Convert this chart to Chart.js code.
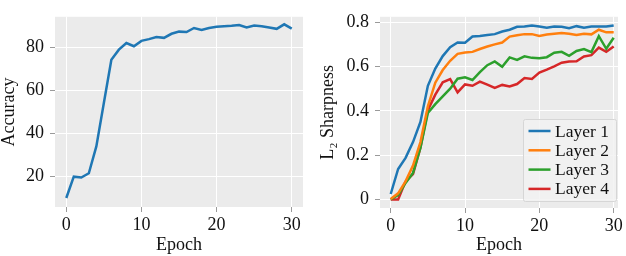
<!DOCTYPE html>
<html lang="en">
<head>
<meta charset="UTF-8">
<title>Accuracy and L2 sharpness</title>
<script src="https://cdn.jsdelivr.net/npm/chart.js"></script>
<style>
  html, body { margin: 0; padding: 0; background: #fff; }
  .panel { position: absolute; top: 0; width: 313px; height: 256px; }
</style>
</head>
<body>
<div class="panel" style="left:0"><canvas id="accChart" width="313" height="256"></canvas></div>
<div class="panel" style="left:313px"><canvas id="sharpChart" width="313" height="256"></canvas></div>

<script>
// data
const epochs = [0,1,2,3,4,5,6,7,8,9,10,11,12,13,14,15,16,17,18,19,20,21,22,23,24,25,26,27,28,29,30];
const accuracy = [9.8,19.7,19.3,21.3,33.8,54.0,74.1,78.8,81.9,80.4,82.9,83.7,84.7,84.3,86.2,87.2,
                  87.0,88.9,88.0,88.9,89.5,89.7,89.9,90.3,89.1,90.0,89.7,89.1,88.5,90.6,88.6];
const layer1 = [0.025,0.138,0.188,0.259,0.350,0.513,0.591,0.647,0.687,0.708,0.707,0.735,0.738,0.742,0.746,0.758,
                0.766,0.779,0.780,0.785,0.780,0.775,0.780,0.779,0.773,0.782,0.775,0.780,0.780,0.780,0.785];
const layer2 = [0.002,0.028,0.082,0.153,0.259,0.421,0.527,0.584,0.626,0.657,0.663,0.666,0.679,0.690,0.700,0.708,
                0.735,0.741,0.746,0.746,0.738,0.744,0.748,0.751,0.748,0.742,0.748,0.745,0.766,0.754,0.754];
const layer3 = [0.000,0.020,0.075,0.120,0.234,0.390,0.430,0.465,0.500,0.545,0.551,0.539,0.575,0.606,0.623,0.599,
                0.641,0.630,0.646,0.639,0.637,0.642,0.662,0.666,0.648,0.670,0.679,0.665,0.737,0.680,0.730];
const layer4 = [0.000,0.000,0.082,0.115,0.234,0.403,0.473,0.529,0.543,0.483,0.519,0.513,0.532,0.518,0.504,0.517,
                0.510,0.521,0.548,0.544,0.573,0.586,0.601,0.617,0.623,0.624,0.645,0.651,0.685,0.666,0.690];
const layerNames = ['Layer 1','Layer 2','Layer 3','Layer 4'];
const layerColors = ['#1f77b4','#ff7f0e','#2ca02c','#d62728'];

const epochTicks = [0,10,20,30];
const accTicks = [20,40,60,80];
const sharpTicks = [0,0.2,0.4,0.6,0.8];

const FONT = "'Liberation Serif', 'DejaVu Serif', serif";
const TEXT = '#111111';

const toPoints = vals => epochs.map((e, i) => ({x: e, y: vals[i]}));

// grey panel behind the grid
const panelBg = {
  id: 'panelBg',
  beforeDraw(chart) {
    const a = chart.chartArea, ctx = chart.ctx;
    ctx.save();
    ctx.fillStyle = '#ebebeb';
    ctx.fillRect(a.left, a.top, a.right - a.left, a.bottom - a.top);
    ctx.restore();
  }
};

// legend box in the lower right corner of the sharpness panel
const cornerLegend = {
  id: 'cornerLegend',
  afterDatasetsDraw(chart) {
    const a = chart.chartArea, ctx = chart.ctx;
    const w = 93, h = 82;
    const x = a.right - w - 2, y = a.bottom - h - 7;
    ctx.save();
    ctx.fillStyle = 'rgba(242,242,242,0.85)';
    ctx.strokeStyle = '#d6d6d6';
    ctx.lineWidth = 1;
    ctx.beginPath();
    ctx.roundRect(x + 0.5, y + 0.5, w, h, 2);
    ctx.fill();
    ctx.stroke();
    ctx.font = '17.5px ' + FONT;
    ctx.textBaseline = 'middle';
    ctx.fillStyle = TEXT;
    chart.data.datasets.forEach((ds, i) => {
      const cy = y + 12 + i * 19.3;
      ctx.strokeStyle = ds.borderColor;
      ctx.lineWidth = 2.5;
      ctx.beginPath();
      ctx.moveTo(x + 5.5, cy);
      ctx.lineTo(x + 27.5, cy);
      ctx.stroke();
      ctx.fillText(ds.label, x + 32, cy + 1);
    });
    ctx.restore();
  }
};

function makeScales(xMin, xMax, yMin, yMax, yTicks, yTitle, yWidth, xHeight, yTitlePad) {
  const grid = {color: '#ffffff', lineWidth: 1, tickColor: '#9a9a9a', tickLength: 5};
  return {
    x: {
      type: 'linear', min: xMin, max: xMax,
      afterBuildTicks: s => { s.ticks = epochTicks.map(v => ({value: v})); },
      afterFit: s => { s.height = xHeight; },
      grid: grid, border: {display: false},
      ticks: {color: TEXT, font: {family: FONT, size: 18}, padding: 2, maxRotation: 0},
      title: {display: true, text: 'Epoch', color: TEXT, font: {family: FONT, size: 18, lineHeight: 1.2}, padding: 0}
    },
    y: {
      min: yMin, max: yMax,
      afterBuildTicks: s => { s.ticks = yTicks.map(v => ({value: v})); },
      afterFit: s => { s.width = yWidth; },
      grid: grid, border: {display: false},
      ticks: {color: TEXT, font: {family: FONT, size: 18}, padding: 6},
      title: {display: true, text: yTitle, color: TEXT, font: {family: FONT, size: 18, lineHeight: 1}, padding: yTitlePad}
    }
  };
}

const common = {
  responsive: false,
  animation: false,
  elements: {point: {radius: 0}, line: {tension: 0, borderWidth: 2.5}},
  plugins: {legend: {display: false}, tooltip: {enabled: false}}
};

new Chart(document.getElementById('accChart'), {
  type: 'line',
  data: {datasets: [{label: 'Accuracy', data: toPoints(accuracy), borderColor: layerColors[0]}]},
  options: Object.assign({}, common, {
    layout: {padding: {left: 0, right: 10, top: 2, bottom: 0}},
    scales: makeScales(-1.5, 31.5, 5.6, 94.1, accTicks, 'Accuracy', 55, 49, 0)
  }),
  plugins: [panelBg]
});

new Chart(document.getElementById('sharpChart'), {
  type: 'line',
  data: {datasets: [layer1, layer2, layer3, layer4].map((vals, i) => ({
    label: layerNames[i], data: toPoints(vals), borderColor: layerColors[i]
  }))},
  options: Object.assign({}, common, {
    layout: {padding: {left: 0, right: 8, top: 5, bottom: 0}},
    scales: makeScales(-1.44, 30.58, -0.0382, 0.8242, sharpTicks, 'L\u2082 Sharpness', 67, 48, {top: 6, bottom: 0})
  }),
  plugins: [panelBg, cornerLegend]
});
</script>
</body>
</html>
